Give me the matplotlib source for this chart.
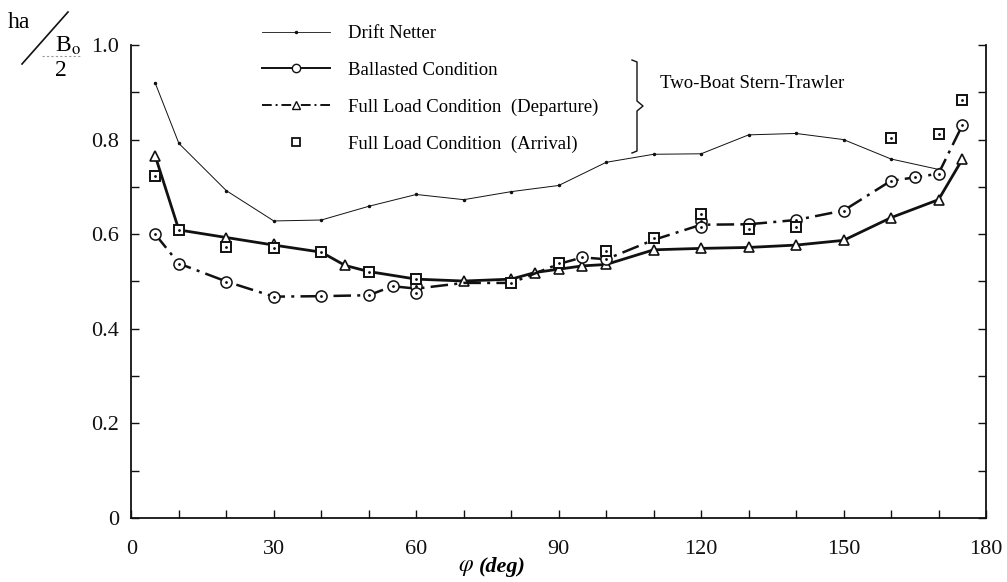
import matplotlib
matplotlib.use("Agg")
import matplotlib.pyplot as plt
from matplotlib.lines import Line2D
from matplotlib.ticker import MultipleLocator, FixedLocator

plt.rcParams["font.family"] = ["Liberation Serif", "DejaVu Serif"]
plt.rcParams["mathtext.fontset"] = "stix"

# Drift Netter
drift_x = [5, 10, 20, 30, 40, 50, 60, 70, 80, 90, 100, 110, 120, 130, 140, 150, 160, 170]
drift_y = [0.920, 0.792, 0.692, 0.628, 0.630, 0.659, 0.684, 0.673, 0.690, 0.703,
           0.752, 0.769, 0.770, 0.810, 0.813, 0.800, 0.759, 0.737]

# solid heavy line (triangles)
solid_x = [5, 10, 20, 30, 40, 45, 50, 60, 70, 80, 85, 90, 95, 100, 110, 120, 130, 140, 150, 160, 170, 175]
solid_y = [0.766, 0.609, 0.593, 0.577, 0.562, 0.534, 0.521, 0.505, 0.501, 0.505, 0.519,
           0.526, 0.533, 0.536, 0.567, 0.570, 0.572, 0.577, 0.587, 0.635, 0.673, 0.758]
tri_x = [5, 20, 30, 45, 70, 80, 85, 90, 95, 100, 110, 120, 130, 140, 150, 160, 170, 175]
tri_y = [0.766, 0.593, 0.580, 0.534, 0.501, 0.505, 0.519, 0.526, 0.533, 0.536, 0.567,
         0.570, 0.572, 0.577, 0.587, 0.635, 0.673, 0.758]

# dash-dot line (circles)
dash_x = [5, 10, 20, 30, 40, 50, 55, 60, 70, 80, 90, 95, 100, 110, 120, 130, 140, 150, 160, 165, 170, 175]
dash_y = [0.600, 0.538, 0.500, 0.468, 0.469, 0.471, 0.490, 0.485, 0.497, 0.497, 0.537,
          0.551, 0.547, 0.588, 0.620, 0.621, 0.630, 0.650, 0.713, 0.720, 0.728, 0.830]
circ_x = [5, 10, 20, 30, 40, 50, 55, 60, 60, 95, 100, 120, 120, 130, 140, 150, 160, 165, 170, 175]
circ_y = [0.600, 0.538, 0.500, 0.468, 0.469, 0.471, 0.490, 0.490, 0.476, 0.551, 0.547,
          0.628, 0.615, 0.621, 0.630, 0.650, 0.713, 0.720, 0.728, 0.830]

# Full Load Condition (Arrival) squares
sq_x = [5, 10, 20, 30, 40, 50, 60, 80, 90, 100, 110, 120, 130, 140, 160, 170, 175]
sq_y = [0.722, 0.609, 0.573, 0.570, 0.563, 0.521, 0.505, 0.497, 0.539, 0.565, 0.591,
        0.643, 0.611, 0.616, 0.803, 0.812, 0.884]

legend_labels = ["Drift Netter", "Ballasted Condition",
                 "Full Load Condition  (Departure)", "Full Load Condition  (Arrival)"]

fig = plt.figure(figsize=(10.07, 5.82), dpi=100)
W, H = 1007, 582
ax = fig.add_axes([131.4 / W, 1 - 518 / H, (986 - 131.4) / W, (518 - 45) / H])

dashdot = (0, (7, 2.5, 1.2, 2.5))
k = "#111111"

ax.plot(drift_x, drift_y, color=k, lw=0.7, marker=".", ms=3)
ax.plot(solid_x, solid_y, color=k, lw=2.0)
ax.plot(tri_x, tri_y, ls="none", marker="^", ms=7, mfc="white", mec=k, mew=1.2)
ax.plot(dash_x, dash_y, color=k, lw=1.8, ls=dashdot)
ax.plot(circ_x, circ_y, ls="none", marker="o", ms=8, mfc="white", mec=k, mew=1.1)
ax.plot(circ_x, circ_y, ls="none", marker=".", ms=2, color=k)
ax.plot(sq_x, sq_y, ls="none", marker="s", ms=7, mfc="white", mec=k, mew=1.4)
ax.plot(sq_x, sq_y, ls="none", marker=".", ms=2, color=k)

ax.set_xlim(0, 180)
ax.set_ylim(0, 1.0)
ax.xaxis.set_major_locator(MultipleLocator(30))
ax.xaxis.set_minor_locator(MultipleLocator(10))
ax.yaxis.set_major_locator(FixedLocator([0, 0.2, 0.4, 0.6, 0.8, 1.0]))
ax.yaxis.set_minor_locator(MultipleLocator(0.1))
ax.set_yticklabels(["0", "0.2", "0.4", "0.6", "0.8", "1.0"])
ax.tick_params(which="both", direction="in", length=6, width=1.0, right=True, top=False,
               labelsize=16, colors=k)
ax.tick_params(axis="x", pad=16)
ax.tick_params(axis="y", pad=9)
ax.spines["top"].set_visible(False)
for s in ["left", "right", "bottom"]:
    ax.spines[s].set_linewidth(1.3)
    ax.spines[s].set_color(k)

# x label: phi (deg), deg in bold italic
fig.text(474 / W, 1 - 567 / H, r"$\varphi$", fontsize=17, va="center", ha="right")
fig.text(479 / W, 1 - 567 / H, "(deg)", fontsize=16, va="center", ha="left",
         fontstyle="italic", fontweight="bold")

# y label ha / (B0/2)
fig.text(8 / W, 1 - 22 / H, "ha", fontsize=17, va="center", ha="left")
fig.add_artist(Line2D([22 / W, 68 / W], [1 - 64 / H, 1 - 12 / H], color=k, lw=1.2))
fig.text(55 / W, 1 - 46 / H, r"B$_\mathrm{o}$", fontsize=17, va="center", ha="left")
fig.add_artist(Line2D([42 / W, 80 / W], [1 - 56 / H, 1 - 56 / H], color="#999999",
                      lw=0.8, ls=(0, (2, 2))))
fig.text(61 / W, 1 - 70 / H, "2", fontsize=17, va="center", ha="center")

handles = [
    Line2D([], [], color=k, lw=0.6, marker=".", ms=3),
    Line2D([], [], color=k, lw=1.4, marker="o", ms=6, mfc="white", mec=k),
    Line2D([], [], color=k, lw=1.4, ls=(0, (5, 2, 1, 2)), marker="^", ms=6, mfc="white", mec=k),
    Line2D([], [], ls="none", marker="s", ms=6, mfc="white", mec=k, mew=1.3),
]
fig.legend(handles, legend_labels, loc="upper left", bbox_to_anchor=(262 / W, 1 - 25 / H),
           frameon=False, fontsize=13.5, handlelength=3.6, handletextpad=1.0,
           labelspacing=1.05, numpoints=1, borderpad=0, borderaxespad=0)

# brace
bx = [632 / W, 637 / W, 637 / W, 643 / W, 637 / W, 637 / W, 632 / W]
by = [1 - 60 / H, 1 - 62 / H, 1 - 101 / H, 1 - 106 / H, 1 - 111 / H, 1 - 151 / H, 1 - 153 / H]
fig.add_artist(Line2D(bx, by, color=k, lw=1.0))
fig.text(660 / W, 1 - 84 / H, "Two-Boat Stern-Trawler", fontsize=13.5, va="center", ha="left")

fig.savefig("out.png", dpi=100, facecolor="white")
